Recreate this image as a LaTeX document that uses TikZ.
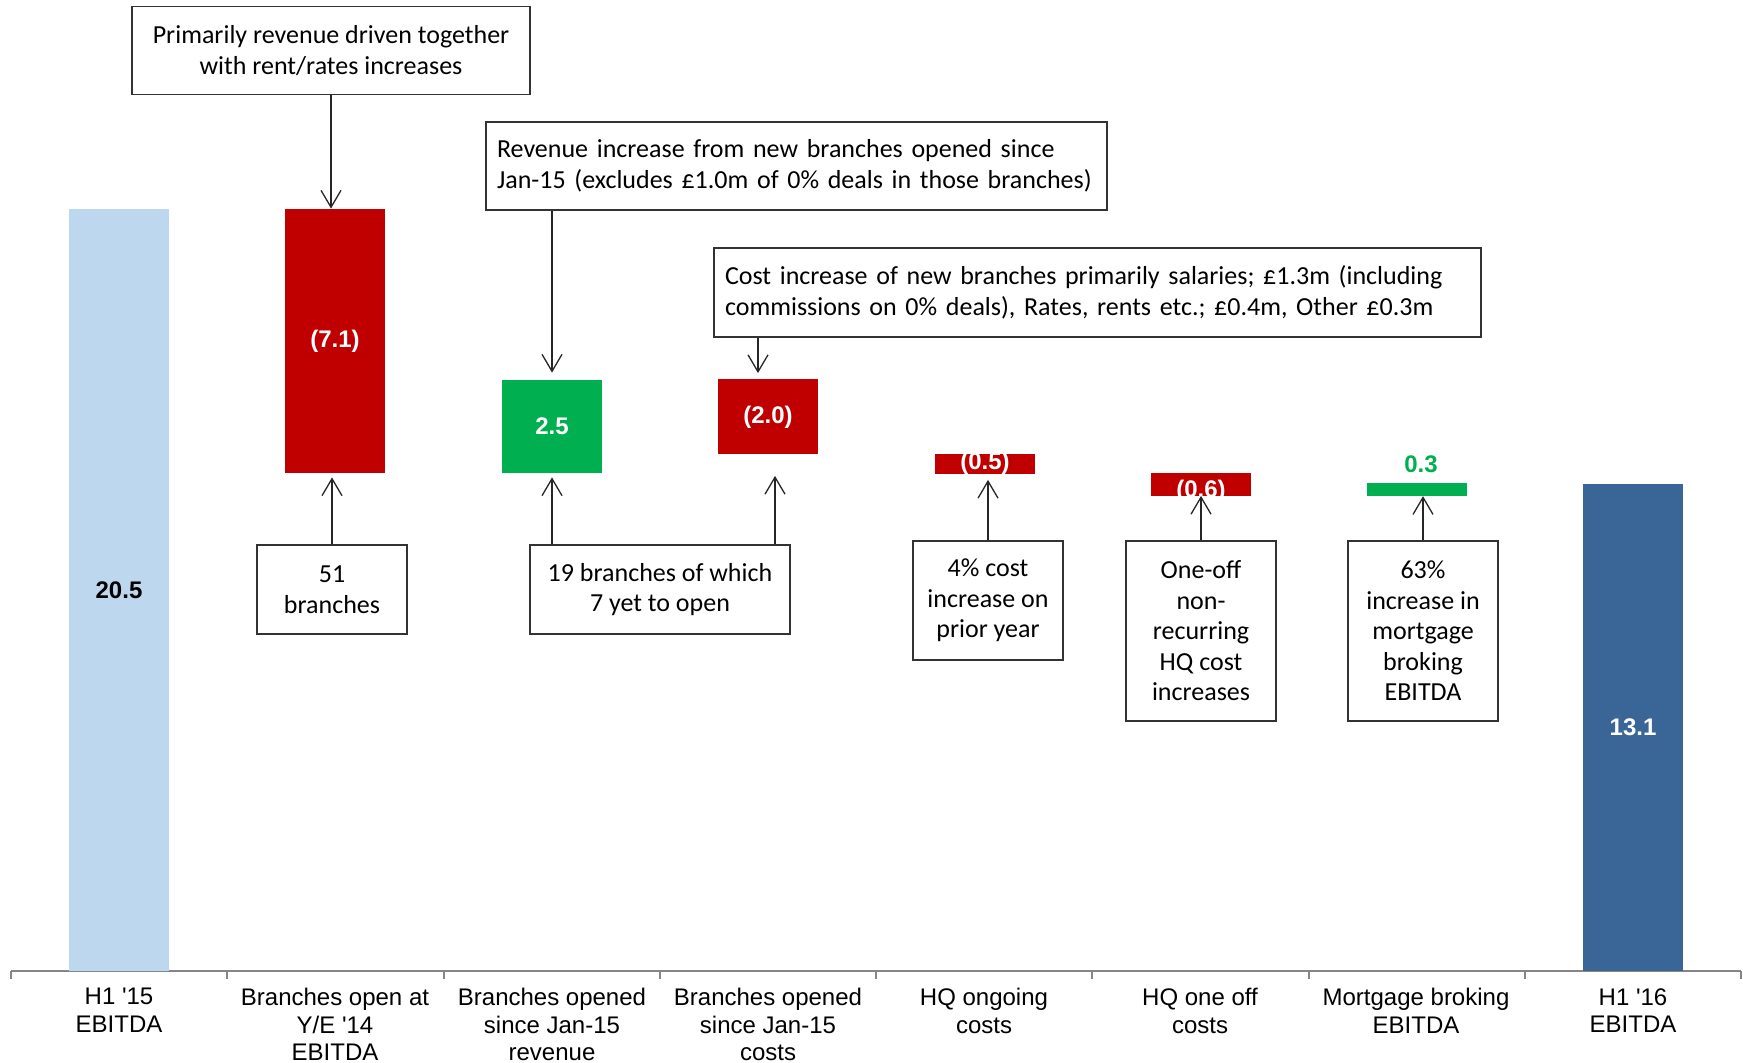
\documentclass[tikz,border=0pt]{standalone}
\usepackage{fontspec}
\setmainfont{Carlito}
\newfontfamily\arialfont{Liberation Sans}
\usetikzlibrary{arrows.meta}
\definecolor{BarLight}{HTML}{BDD7EE}
\definecolor{BarRed}{HTML}{C00000}
\definecolor{BarGreen}{HTML}{00B050}
\definecolor{BarDark}{HTML}{3A6597}
\definecolor{AxisGrey}{HTML}{868686}

\begin{document}
\begin{tikzpicture}[x=0.5pt, y=-0.5pt, >={Straight Barb[length=8.5pt,width=10pt]},
    bar/.style={inner sep=0pt, minimum width=50pt},
    barlbl/.style={inner sep=0pt, text=white, font=\arialfont\bfseries\fontsize{12}{14}\selectfont},
    note/.style={draw=black!80, line width=0.75pt, fill=white, inner sep=0pt,
      align=center, font=\fontsize{13}{15.25}\selectfont},
    noteleft/.style={note, align=left, inner xsep=5.5pt},
    cat/.style={anchor=north, inner sep=0pt, align=center,
      font=\arialfont\fontsize{12}{13.75}\selectfont},
    link/.style={->, line width=0.65pt, black!85}]
  \useasboundingbox (0,0) rectangle (1743,1063);

  % axis
  \draw[AxisGrey, line width=1pt] (11,971) -- (1741,971);
  \foreach \i in {0,...,8}
    \draw[AxisGrey, line width=1pt] (11+216.25*\i,971) -- ++(0,8);

  % bars
  \node[bar, fill=BarLight, minimum height=381pt,
    label={[barlbl,text=black]center:20.5}] (bOpen) at (119,590) {};
  \node[bar, fill=BarRed, minimum height=132pt,
    label={[barlbl]center:(7.1)}] (bBr) at (335,341) {};
  \node[bar, fill=BarGreen, minimum height=46.5pt,
    label={[barlbl]center:2.5}] (bRev) at (552,426.5) {};
  \node[bar, fill=BarRed, minimum height=37.5pt,
    label={[barlbl]center:(2.0)}] (bCst) at (768,417) {};
  \node[bar, fill=BarRed, minimum height=9.75pt,
    label={[barlbl]center:(0.5)}] (bHQ) at (985,463.75) {};
  \node[bar, fill=BarRed, minimum height=11.5pt,
    label={[barlbl,yshift=-3.5pt]center:(0.6)}] (bOne) at (1201,484) {};
  \node[bar, fill=BarGreen, minimum height=6.25pt,
    label={[barlbl,text=BarGreen,xshift=2pt,yshift=5pt]above:0.3}] (bMort) at (1417,489.5) {};
  \node[bar, fill=BarDark, minimum height=243.5pt,
    label={[barlbl]center:13.1}] (bFin) at (1633,727.5) {};

  % category labels
  \node[cat] (c1) at (119,988) {H1 \textquotesingle15\\EBITDA};
  \node[cat] (c2) at (335,988) {Branches open at\\Y/E \textquotesingle14\\EBITDA};
  \node[cat] (c3) at (552,988) {Branches opened\\since Jan-15\\revenue};
  \node[cat] (c4) at (768,988) {Branches opened\\since Jan-15\\costs};
  \node[cat] (c5) at (984,988) {HQ ongoing\\costs};
  \node[cat] (c6) at (1200,988) {HQ one off\\costs};
  \node[cat] (c7) at (1416,988) {Mortgage broking\\EBITDA};
  \node[cat] (c8) at (1633,988) {H1 \textquotesingle16\\EBITDA};

  % notes
  \node[note, minimum width=199pt, minimum height=44pt] (nDrv) at (331,50.5)
    {Primarily revenue driven together\\with rent/rates increases};
  \node[noteleft, text width=299.5pt, minimum height=44pt] (nRev) at (796.5,166)
    {Revenue increase from new branches opened since\\Jan-15 (excludes £1.0m of 0\% deals in those branches)};
  \node[noteleft, text width=372.5pt, minimum height=44.5pt] (nCst) at (1097.5,292.5)
    {Cost increase of new branches primarily salaries; £1.3m (including\\commissions on 0\% deals), Rates, rents etc.; £0.4m, Other £0.3m};
  \node[note, minimum width=75pt, minimum height=44.5pt] (n51) at (332,589.5)
    {51\\branches};
  \node[note, minimum width=130pt, minimum height=44.5pt] (n19) at (660,589.5)
    {19 branches of which\\7 yet to open};
  \node[note, minimum width=75pt, minimum height=59.5pt] (n4p) at (988,600.5)
    {4\% cost\\increase on\\prior year};
  \node[note, minimum width=75pt, minimum height=90pt] (nOne) at (1201,631)
    {One-off\\non-\\recurring\\HQ cost\\increases};
  \node[note, minimum width=75pt, minimum height=90pt] (n63) at (1423,631)
    {63\%\\increase in\\mortgage\\broking\\EBITDA};

  % arrows
  \draw[link] (nDrv.south) -- (nDrv.south |- bBr.north);
  \draw[link] (bRev.north |- nRev.south) -- ([yshift=3.5pt]bRev.north);
  \draw[link] ([xshift=-5pt]bCst.north |- nCst.south) -- ([xshift=-5pt,yshift=3pt]bCst.north);
  \draw[link] (n51.north) -- ([yshift=-2pt]n51.north |- bBr.south);
  \draw[link] (bRev.south |- n19.north) -- ([yshift=-2pt]bRev.south);
  \draw[link] ([xshift=3.5pt]bCst.south |- n19.north) -- ([xshift=3.5pt,yshift=-10.5pt]bCst.south);
  \draw[link] (n4p.north) -- ([yshift=-3pt]n4p.north |- bHQ.south);
  \draw[link] (nOne.north) -- (nOne.north |- bOne.south);
  \draw[link] (n63.north) -- (n63.north |- bMort.south);
\end{tikzpicture}
\end{document}
